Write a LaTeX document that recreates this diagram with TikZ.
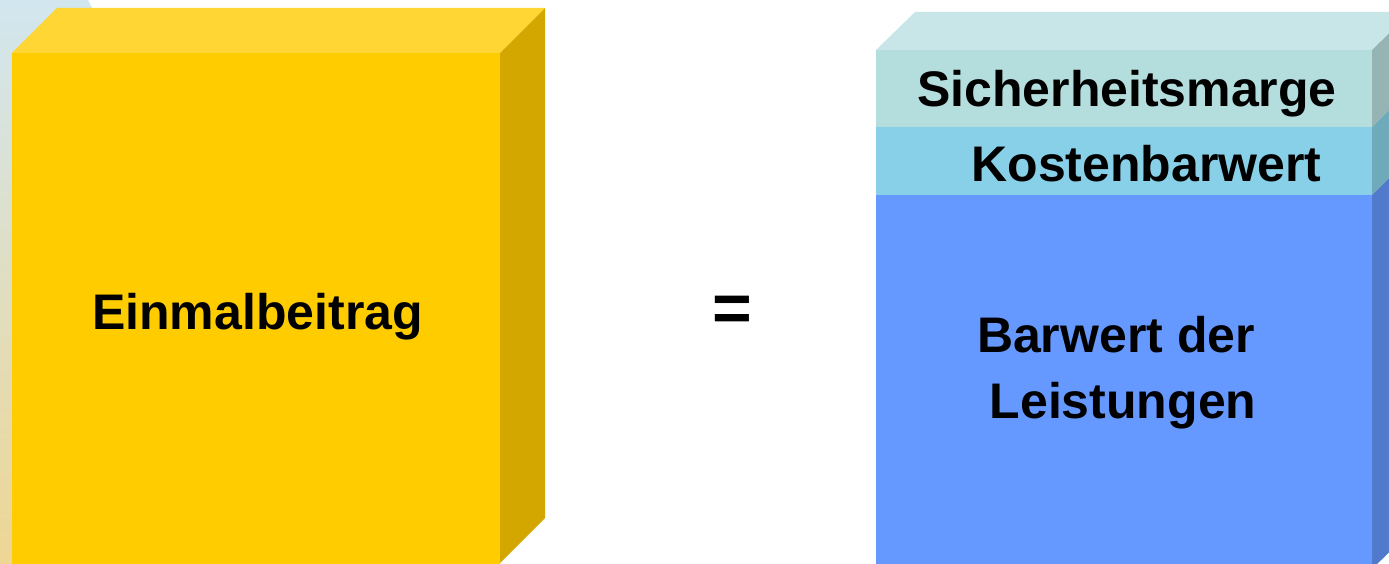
\documentclass[tikz,border=0pt]{standalone}
\usepackage{fontspec}
\setmainfont{Liberation Sans}
\begin{document}
\begin{tikzpicture}[x=1pt,y=-1pt,
  lbl/.style={inner sep=0pt,anchor=base,font=\fontsize{50}{60}\selectfont\bfseries}]
\definecolor{bgblue}{RGB}{210,230,240}
\definecolor{bgsand}{RGB}{238,214,148}
\definecolor{goldfront}{RGB}{255,204,0}
\definecolor{goldtop}{RGB}{255,214,51}
\definecolor{goldside}{RGB}{212,166,0}
\definecolor{cubetop}{RGB}{200,230,232}
\definecolor{marginfront}{RGB}{180,222,222}
\definecolor{marginside}{RGB}{150,180,180}
\definecolor{costfront}{RGB}{136,208,232}
\definecolor{costside}{RGB}{110,170,185}
\definecolor{benefront}{RGB}{102,153,255}
\definecolor{beneside}{RGB}{82,122,204}
\useasboundingbox (0,0) rectangle (1389,564);

% backdrop strip on the left
\shade[top color=bgblue,middle color={rgb,255:red,222;green,226;blue,210},bottom color=bgsand]
  (0,0) -- (88,0) -- (120,64) -- (120,564) -- (0,564) -- cycle;

% single premium block
\fill[goldfront] (12,53) rectangle (500,564);
\fill[goldtop] (12,53) -- (57,8) -- (545,8) -- (500,53) -- cycle;
\fill[goldside] (500,53) -- (545,8) -- (545,518) -- (500,563) -- (500,564) -- cycle;
\node[lbl] (premium) at (257.5,329) {Einmalbeitrag};

% equals sign
\node[inner sep=0pt,anchor=base,font=\fontsize{68}{80}\selectfont\bfseries] (equals) at (732,331) {=};

% stacked block on the right
\fill[cubetop] (876,50) -- (915,12) -- (1411,12) -- (1372,50) -- cycle;
\fill[marginfront] (876,50) rectangle (1372,127);
\fill[marginside] (1372,50) -- (1411,12) -- (1411,89) -- (1372,127) -- cycle;
\fill[costfront] (876,127) rectangle (1372,195);
\fill[costside] (1372,127) -- (1411,89) -- (1411,157) -- (1372,195) -- cycle;
\fill[benefront] (876,195) rectangle (1372,569);
\fill[beneside] (1372,195) -- (1411,157) -- (1411,531) -- (1372,569) -- cycle;

\node[lbl] (margin) at (1127,107) {Sicherheitsmarge};
\node[lbl] (costs) at (1146.5,182) {Kostenbarwert};
\node[lbl] (benefits1) at (1116,352) {Barwert der};
\node[lbl] (benefits2) at (1123,418) {Leistungen};
\end{tikzpicture}
\end{document}
